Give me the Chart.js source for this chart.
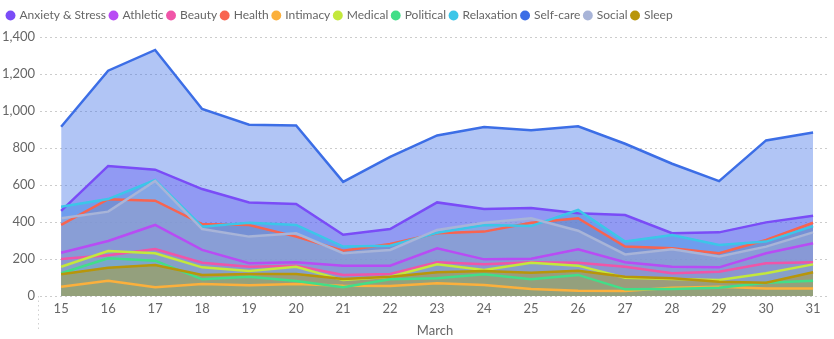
<!DOCTYPE html>
<html lang="en">
<head>
    <meta charset="UTF-8">
    <title>Topics by Day</title>
    <script src="https://cdn.jsdelivr.net/npm/chart.js"></script>
    <style>
        html, body { margin: 0; padding: 0; background: #fff; }
        .wrap { width: 834px; height: 339px; }
    </style>
</head>
<body>
    <div class="wrap"><canvas id="topicsChart"></canvas></div>

    <script>
        // Days of March
        const days = [15, 16, 17, 18, 19, 20, 21, 22, 23, 24, 25, 26, 27, 28, 29, 30, 31];

        const topics = ['Anxiety & Stress', 'Athletic', 'Beauty', 'Health', 'Intimacy', 'Medical',
                        'Political', 'Relaxation', 'Self-care', 'Social', 'Sleep'];
        const topicColors = ['#7a4cf7', '#b84cf4', '#f055a8', '#f86450', '#fbb03c', '#c3e83c',
                             '#42de88', '#3cc6e8', '#3c6ee6', '#a8b4d8', '#b8960a'];

        const anxiety    = [460, 703, 683, 578, 506, 497, 331, 362, 506, 470, 476, 447, 438, 339, 344, 398, 434];
        const athletic   = [234, 297, 384, 249, 177, 182, 164, 164, 258, 198, 202, 252, 182, 158, 155, 231, 285];
        const beauty     = [200, 220, 254, 180, 158, 164, 114, 119, 182, 171, 182, 180, 158, 123, 131, 177, 182];
        const health     = [384, 523, 515, 389, 384, 321, 245, 281, 339, 348, 396, 420, 267, 258, 231, 303, 396];
        const intimacy   = [50, 83, 47, 65, 58, 65, 56, 54, 69, 59, 38, 29, 27, 45, 50, 41, 41];
        const medical    = [158, 243, 231, 155, 135, 158, 86, 104, 171, 141, 180, 164, 99, 92, 86, 123, 171];
        const political  = [123, 204, 191, 90, 104, 81, 47, 90, 96, 117, 90, 114, 36, 38, 45, 72, 83];
        const relaxation = [483, 524, 627, 375, 396, 384, 267, 272, 342, 384, 378, 465, 294, 330, 276, 294, 378];
        const selfCare   = [915, 1218, 1330, 1011, 926, 922, 617, 752, 868, 913, 896, 917, 823, 715, 621, 841, 884];
        const social     = [420, 456, 622, 362, 321, 339, 231, 249, 357, 396, 420, 353, 225, 252, 213, 267, 344];
        const sleep      = [117, 153, 168, 114, 119, 119, 92, 104, 128, 135, 126, 137, 104, 96, 77, 72, 128];

        const yTicks = [0, 200, 400, 600, 800, 1000, 1200, 1400];

        const series = [anxiety, athletic, beauty, health, intimacy, medical,
                        political, relaxation, selfCare, social, sleep];

        function fade(hex, a) {
            const n = parseInt(hex.slice(1), 16);
            return `rgba(${n >> 16}, ${(n >> 8) & 255}, ${n & 255}, ${a})`;
        }

        const datasets = series.map((values, i) => ({
            label: topics[i],
            data: values.map((v, j) => ({ x: days[j], y: v })),
            borderColor: topicColors[i],
            backgroundColor: fade(topicColors[i], 0.4),
            borderWidth: 2.5,
            pointRadius: 0,
            pointHoverRadius: 0,
            tension: 0,
            fill: 'origin',
            // later topics are painted over earlier ones
            order: series.length - i
        }));

        // fixed-height legend band so the plot starts at the same place every time
        const legendBand = {
            id: 'legendBand',
            beforeInit(chart) {
                const legend = chart.legend;
                const fit = legend.fit;
                legend.fit = function () {
                    fit.call(this);
                    this.height = 32;
                };
            }
        };

        // dotted stub under the left end of the x axis
        const axisStub = {
            id: 'axisStub',
            afterDraw(chart) {
                const { ctx, chartArea } = chart;
                ctx.save();
                ctx.strokeStyle = 'rgba(0,0,0,0.18)';
                ctx.lineWidth = 1;
                ctx.setLineDash([1.5, 3]);
                ctx.beginPath();
                ctx.moveTo(chartArea.left - 1.5, chartArea.bottom);
                ctx.lineTo(chartArea.left - 1.5, chartArea.bottom + 35);
                ctx.stroke();
                ctx.restore();
            }
        };

        Chart.defaults.font.family = "'Lato', 'Open Sans', sans-serif";
        Chart.defaults.color = '#666';

        new Chart(document.getElementById('topicsChart'), {
            type: 'line',
            data: { datasets },
            plugins: [legendBand, axisStub],
            options: {
                responsive: true,
                maintainAspectRatio: false,
                animation: false,
                layout: { padding: { top: 5, right: 4, left: 3, bottom: 0 } },
                plugins: {
                    filler: { drawTime: 'beforeDatasetsDraw' },
                    tooltip: { enabled: false },
                    legend: {
                        position: 'top',
                        align: 'start',
                        labels: {
                            usePointStyle: true,
                            pointStyle: 'circle',
                            boxWidth: 6,
                            boxHeight: 7,
                            padding: 4.5,
                            color: '#666',
                            font: { size: 12 },
                            sort: (a, b) => a.datasetIndex - b.datasetIndex,
                            generateLabels(chart) {
                                const items = Chart.defaults.plugins.legend.labels.generateLabels(chart);
                                items.forEach(it => {
                                    it.fillStyle = topicColors[it.datasetIndex];
                                    it.strokeStyle = topicColors[it.datasetIndex];
                                    it.lineWidth = 0;
                                });
                                return items;
                            }
                        }
                    }
                },
                scales: {
                    x: {
                        type: 'linear',
                        min: 14.55,
                        max: 31.36,
                        afterBuildTicks: scale => { scale.ticks = days.map(d => ({ value: d })); },
                        afterFit: scale => { scale.height = 43; },
                        grid: { display: false, drawTicks: false },
                        border: { display: false },
                        ticks: { padding: 5, font: { size: 13 }, color: '#666', maxRotation: 0, autoSkip: false },
                        title: { display: true, text: 'March', font: { size: 13 }, color: '#666', padding: { top: 1, bottom: 0 } }
                    },
                    y: {
                        min: 0,
                        max: 1400,
                        afterBuildTicks: scale => { scale.ticks = yTicks.map(v => ({ value: v })); },
                        afterFit: scale => { scale.width = 37; },
                        grid: { color: 'rgba(0,0,0,0.2)', drawTicks: false },
                        border: { display: false, dash: [2, 3] },
                        ticks: {
                            padding: 5,
                            font: { size: 13 },
                            color: '#666',
                            callback: v => v.toLocaleString('en-US')
                        }
                    }
                }
            }
        });
    </script>
</body>
</html>
